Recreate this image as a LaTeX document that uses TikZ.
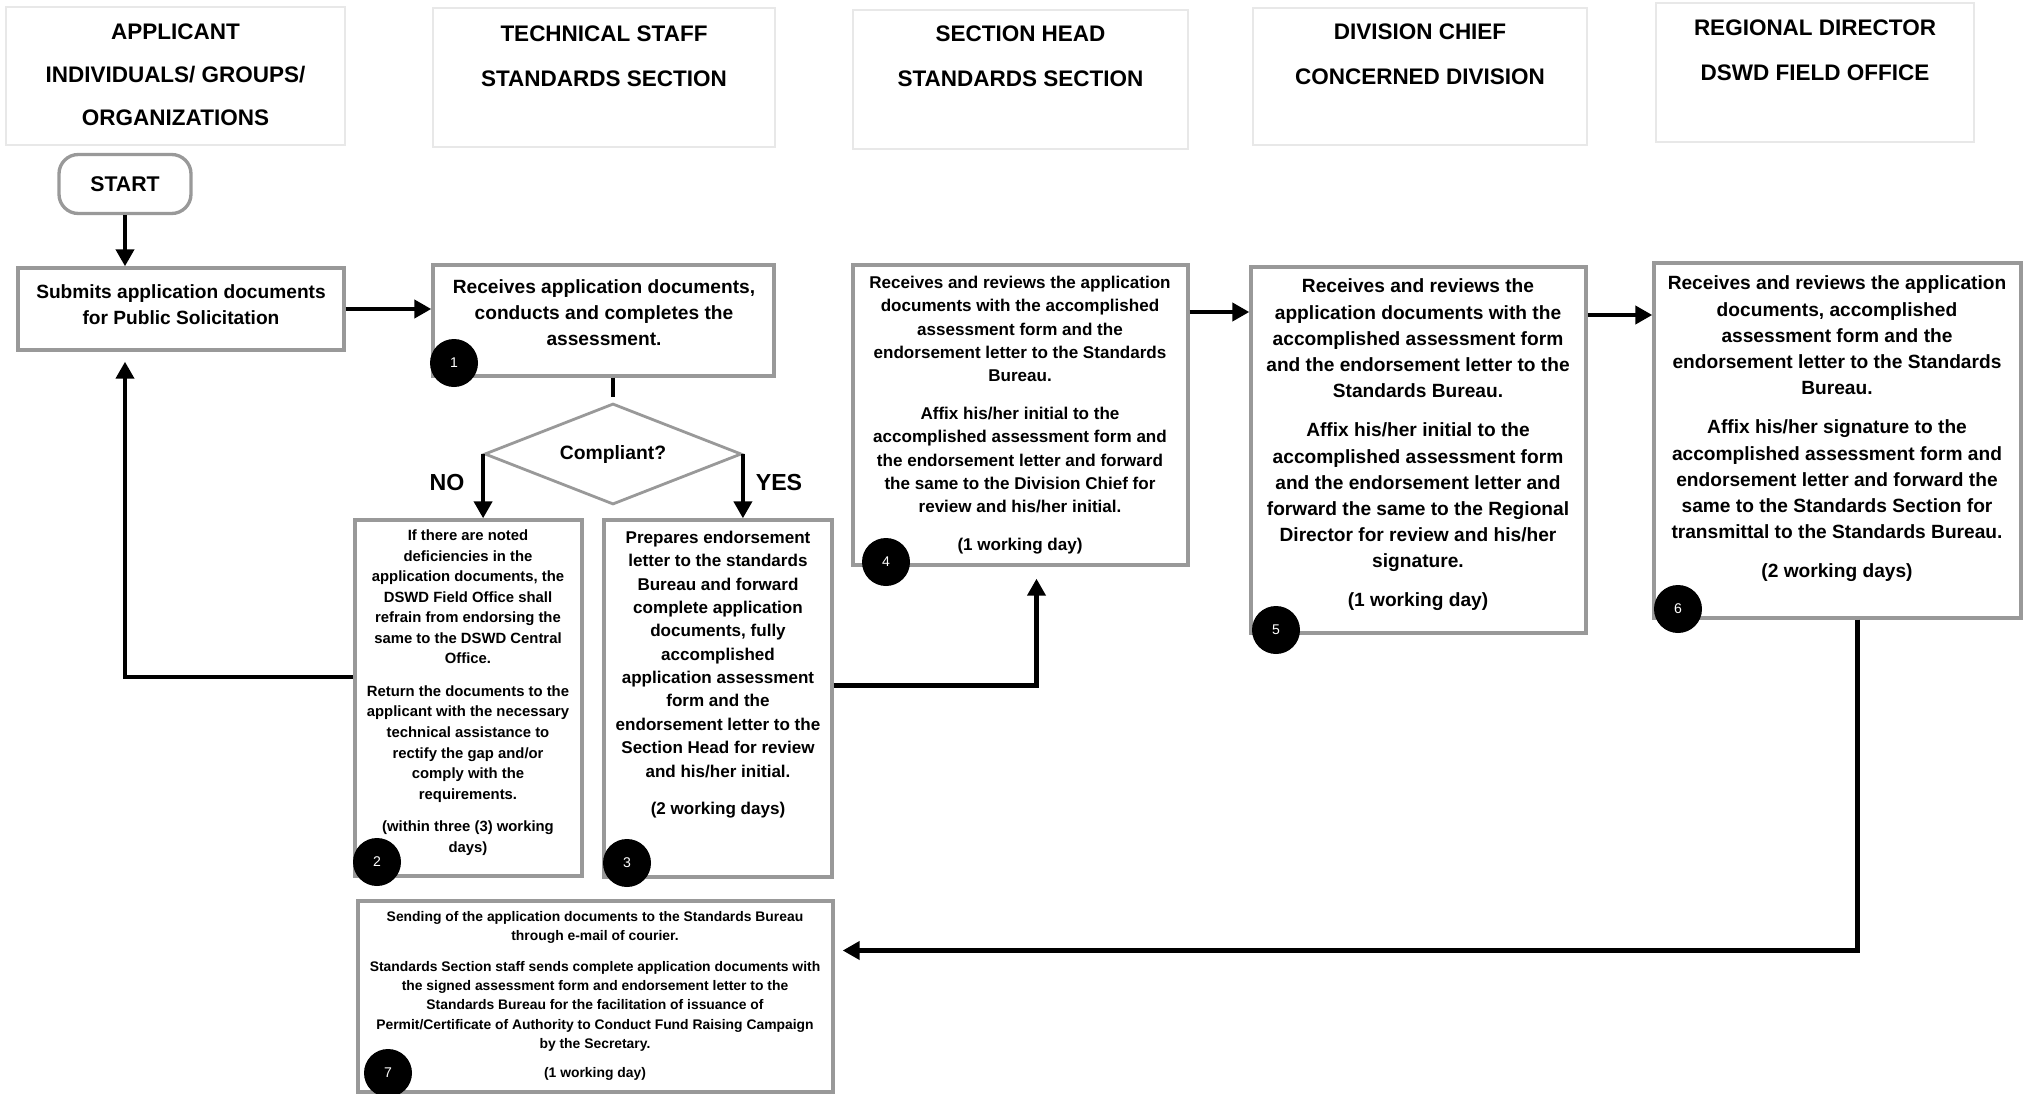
\documentclass[tikz,border=0pt]{standalone}
\usepackage{fontspec}
\setmainfont{Liberation Sans}
\usetikzlibrary{shapes.geometric, arrows.meta, positioning}
\newlength{\unitpx}
\setlength{\unitpx}{0.2mm}

\begin{document}
\begin{tikzpicture}[x=0.2mm, y=-0.2mm,
	headbox/.style={rectangle, draw=black!9, line width=1pt},
	headtext/.style={align=center, font=\fontsize{12.8}{25.5}\selectfont\bfseries},
	stepbox/.style={rectangle, draw=black!40, line width=1.9pt, fill=white},
	steptext/.style={align=center, inner sep=0pt},
	numdot/.style={circle, fill=black, text=white, minimum size=48\unitpx, inner sep=0pt, font=\fontsize{8}{8}\selectfont},
	flow/.style={line width=2.6pt, -{Triangle[length=9.7pt, width=10.2pt]}}]
		\useasboundingbox (0,0) rectangle (2026,1094);
		% lane headers
		\node at (175.5,76) [headbox, minimum width=339\unitpx, minimum height=138\unitpx] (hd1) {};
		\node at (604,77.5) [headbox, minimum width=342\unitpx, minimum height=139\unitpx] (hd2) {};
		\node at (1020.5,79.5) [headbox, minimum width=335\unitpx, minimum height=139\unitpx] (hd3) {};
		\node at (1420,76.5) [headbox, minimum width=334\unitpx, minimum height=137\unitpx] (hd4) {};
		\node at (1815,72.5) [headbox, minimum width=318\unitpx, minimum height=139\unitpx] (hd5) {};
		\node at (175.5,75) [headtext, font=\fontsize{12.8}{24.5}\selectfont\bfseries] (ht1) {APPLICANT\\INDIVIDUALS/ GROUPS/\\ORGANIZATIONS};
		\node at (604,56.5) [headtext] (ht2) {TECHNICAL STAFF\\STANDARDS SECTION};
		\node at (1020.5,56.5) [headtext] (ht3) {SECTION HEAD\\STANDARDS SECTION};
		\node at (1420,54) [headtext] (ht4) {DIVISION CHIEF\\CONCERNED DIVISION};
		\node at (1815,50.5) [headtext] (ht5) {REGIONAL DIRECTOR\\DSWD FIELD OFFICE};
		% start and decision
		\node at (125,184) [rectangle, rounded corners=11pt, draw=black!40, line width=1.9pt, minimum width=132\unitpx, minimum height=59\unitpx, font=\fontsize{12.1}{12.1}\selectfont\bfseries] (start) {START};
		\node at (613,454) [diamond, aspect=2.5, draw=black!40, line width=1.6pt, minimum width=257\unitpx, minimum height=101\unitpx, inner sep=0pt, font=\fontsize{11}{11}\selectfont\bfseries] (cmp) {Compliant?};
		\node at (447,483) [font=\fontsize{13.2}{13.2}\selectfont\bfseries] (no) {NO};
		\node at (779,483) [font=\fontsize{13.2}{13.2}\selectfont\bfseries] (yes) {YES};
		% step frames
		\node at (181,309) [stepbox, minimum width=326\unitpx, minimum height=82\unitpx] (sub) {};
		\node at (603.5,320.5) [stepbox, minimum width=341\unitpx, minimum height=111\unitpx] (st1) {};
		\node at (468.5,698) [stepbox, minimum width=227\unitpx, minimum height=356\unitpx] (st2) {};
		\node at (718,698.5) [stepbox, minimum width=228\unitpx, minimum height=357\unitpx] (st3) {};
		\node at (1020.5,415) [stepbox, minimum width=335\unitpx, minimum height=300\unitpx] (st4) {};
		\node at (1418.5,450) [stepbox, minimum width=335\unitpx, minimum height=366\unitpx] (st5) {};
		\node at (1837.5,440.5) [stepbox, minimum width=367\unitpx, minimum height=355\unitpx] (st6) {};
		\node at (595.5,996.5) [stepbox, minimum width=475\unitpx, minimum height=191\unitpx] (st7) {};
		% step texts
		\node at (181,304.5) [steptext, font=\fontsize{10.9}{14.6}\selectfont\bfseries] (tsub) {Submits application documents\\for Public Solicitation};
		\node at (604,312.5) [steptext, font=\fontsize{10.9}{14.9}\selectfont\bfseries] (t1) {Receives application documents,\\conducts and completes the\\assessment.};
		\node at (468,692.5) [steptext, font=\fontsize{8.45}{11.7}\selectfont\bfseries] (t2) {If there are noted\\deficiencies in the\\application documents, the\\DSWD Field Office shall\\refrain from endorsing the\\same to the DSWD Central\\Office.\\[6.8pt]
			Return the documents to the\\applicant with the necessary\\technical assistance to\\rectify the gap and/or\\comply with the\\requirements.\\[6.8pt]
			(within three (3) working\\days)};
		\node at (718,674.5) [steptext, font=\fontsize{9.7}{13.3}\selectfont\bfseries] (t3) {Prepares endorsement\\letter to the standards\\Bureau and forward\\complete application\\documents, fully\\accomplished\\application assessment\\form and the\\endorsement letter to the\\Section Head for review\\and his/her initial.\\[8pt]
			(2 working days)};
		\node at (1020,415) [steptext, font=\fontsize{9.7}{13.3}\selectfont\bfseries] (t4) {Receives and reviews the application\\documents with the accomplished\\assessment form and the\\endorsement letter to the Standards\\Bureau.\\[8pt]
			Affix his/her initial to the\\accomplished assessment form and\\the endorsement letter and forward\\the same to the Division Chief for\\review and his/her initial.\\[8pt]
			(1 working day)};
		\node at (1418,445) [steptext, font=\fontsize{10.9}{14.9}\selectfont\bfseries] (t5) {Receives and reviews the\\application documents with the\\accomplished assessment form\\and the endorsement letter to the\\Standards Bureau.\\[7.4pt]
			Affix his/her initial to the\\accomplished assessment form\\and the endorsement letter and\\forward the same to the Regional\\Director for review and his/her\\signature.\\[7.4pt]
			(1 working day)};
		\node at (1837,429) [steptext, font=\fontsize{10.9}{14.9}\selectfont\bfseries] (t6) {Receives and reviews the application\\documents, accomplished\\assessment form and the\\endorsement letter to the Standards\\Bureau.\\[7.4pt]
			Affix his/her signature to the\\accomplished assessment form and\\endorsement letter and forward the\\same to the Standards Section for\\transmittal to the Standards Bureau.\\[7.4pt]
			(2 working days)};
		\node at (595,996) [steptext, font=\fontsize{7.9}{10.9}\selectfont\bfseries] (t7) {Sending of the application documents to the Standards Bureau\\through e-mail of courier.\\[6.8pt]
			Standards Section staff sends complete application documents with\\the signed assessment form and endorsement letter to the\\Standards Bureau for the facilitation of issuance of\\Permit/Certificate of Authority to Conduct Fund Raising Campaign\\by the Secretary.\\[6pt]
			(1 working day)};
		% step numbers
		\node at (454,363) [numdot] (n1) {1};
		\node at (377,862) [numdot] (n2) {2};
		\node at (627,863) [numdot] (n3) {3};
		\node at (886,562) [numdot] (n4) {4};
		\node at (1276,630) [numdot] (n5) {5};
		\node at (1678,609) [numdot] (n6) {6};
		\node at (388,1073) [numdot] (n7) {7};
		% connectors
		\draw[flow] (start) -- (start |- sub.north);
		\draw[flow] (sub.east) -- (sub.east -| st1.west);
		\draw[line width=2.6pt] (st1.south -| cmp.north) -- ([yshift=5\unitpx]cmp.north);
		\draw[flow] (cmp.west) -- (cmp.west |- st2.north);
		\draw[flow] (cmp.east) -- (cmp.east |- st3.north);
		\draw[flow, shorten >=10\unitpx] ([yshift=21\unitpx]st2.west) -| (start |- sub.south);
		\draw[flow, shorten >=12\unitpx] ([yshift=13\unitpx]st3.east) -| ([xshift=16\unitpx]st4.south);
		\draw[flow] ([yshift=103\unitpx]st4.east) -- ([yshift=103\unitpx]st4.east -| st5.west);
		\draw[flow] ([yshift=135\unitpx]st5.east) -- ([yshift=135\unitpx]st5.east -| st6.west);
		\draw[flow, shorten >=8\unitpx] ([xshift=20\unitpx]st6.south) |- ([yshift=46\unitpx]st7.east);
\end{tikzpicture}
\end{document}
